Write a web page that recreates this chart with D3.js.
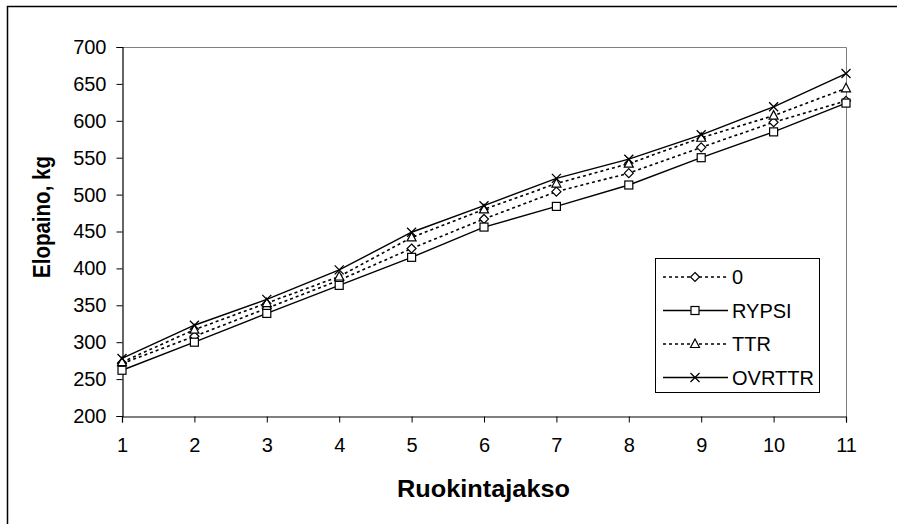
<!DOCTYPE html>
<html>
<head>
<meta charset="utf-8">
<script src="https://cdn.jsdelivr.net/npm/d3@7"></script>
<style>
  body { margin: 0; background: #fff; }
  svg { display: block; font-family: Arial, "Liberation Sans", sans-serif; }
</style>
</head>
<body>
<svg id="chart" width="897" height="524"></svg>
<script>
const periods = [1, 2, 3, 4, 5, 6, 7, 8, 9, 10, 11];
const yTicks = [200, 250, 300, 350, 400, 450, 500, 550, 600, 650, 700];

const series0 = [271, 308, 346, 384, 427, 467, 504, 529, 564, 598, 627];
const seriesRypsi = [262, 300, 339, 377, 415, 456, 484, 513, 550, 585, 624];
const seriesTtr = [273, 317, 353, 389, 442, 480, 515, 542, 577, 607, 644];
const seriesOvrttr = [278, 323, 358, 398, 449, 485, 522, 548, 581, 619, 664];

const seriesNames = ['0', 'RYPSI', 'TTR', 'OVRTTR'];
const seriesValues = [series0, seriesRypsi, seriesTtr, seriesOvrttr];
const seriesDash = ['3,3', null, '3,3', null];
const seriesMarker = ['diamond', 'square', 'triangle', 'cross'];

const svg = d3.select('#chart');

// outer frame (only top and left edges visible)
svg.append('rect')
  .attr('x', 7.5).attr('y', 6.5)
  .attr('width', 900).attr('height', 530)
  .attr('fill', 'none').attr('stroke', '#000').attr('stroke-width', 1.5);

const plot = { left: 122, right: 846, top: 47, bottom: 416 };

const x = d3.scaleLinear().domain([1, 11]).range([plot.left, plot.right]);
const y = d3.scaleLinear().domain([200, 700]).range([plot.bottom, plot.top]);

// plot area border (grey top and right)
svg.append('path')
  .attr('d', `M${plot.left},${plot.top + 0.5}H${plot.right + 0.5}V${plot.bottom}`)
  .attr('fill', 'none').attr('stroke', '#808080').attr('stroke-width', 1);

// axes
const yAxis = svg.append('g')
  .attr('transform', `translate(${plot.left + 0.5},0)`)
  .call(d3.axisLeft(y).tickValues(yTicks).tickSize(6).tickPadding(10).tickFormat(d3.format('d')));
const xAxis = svg.append('g')
  .attr('transform', `translate(0,${plot.bottom + 0.5})`)
  .call(d3.axisBottom(x).tickValues(periods).tickSize(6).tickPadding(15).tickFormat(d3.format('d')));

[xAxis, yAxis].forEach(a => {
  a.select('.domain').attr('stroke', '#000').attr('stroke-width', 1.2);
  a.selectAll('.tick line').attr('stroke', '#000');
  a.selectAll('.tick text').attr('font-size', 20).attr('fill', '#000')
    .attr('font-family', 'Arial, "Liberation Sans", sans-serif');
});

// axis titles
svg.append('text')
  .attr('x', 483.5).attr('y', 497)
  .attr('text-anchor', 'middle')
  .attr('font-size', 24).attr('font-weight', 'bold')
  .attr('textLength', 173).attr('lengthAdjust', 'spacingAndGlyphs')
  .text('Ruokintajakso');

svg.append('text')
  .attr('transform', 'translate(50,217) rotate(-90)')
  .attr('text-anchor', 'middle')
  .attr('font-size', 23).attr('font-weight', 'bold')
  .attr('textLength', 122).attr('lengthAdjust', 'spacingAndGlyphs')
  .text('Elopaino, kg');

function drawMarker(g, type, cx, cy) {
  const s = 4.5;
  if (type === 'diamond') {
    g.append('path')
      .attr('d', `M${cx},${cy - s}L${cx + s},${cy}L${cx},${cy + s}L${cx - s},${cy}Z`)
      .attr('fill', '#fff').attr('stroke', '#000').attr('stroke-width', 1.2);
  } else if (type === 'square') {
    g.append('rect')
      .attr('x', cx - 4).attr('y', cy - 4).attr('width', 8).attr('height', 8)
      .attr('fill', '#fff').attr('stroke', '#000').attr('stroke-width', 1.2);
  } else if (type === 'triangle') {
    g.append('path')
      .attr('d', `M${cx},${cy - 5}L${cx + 4.5},${cy + 3.5}L${cx - 4.5},${cy + 3.5}Z`)
      .attr('fill', '#fff').attr('stroke', '#000').attr('stroke-width', 1.2);
  } else {
    g.append('path')
      .attr('d', `M${cx - s},${cy - s}L${cx + s},${cy + s}M${cx + s},${cy - s}L${cx - s},${cy + s}`)
      .attr('stroke', '#000').attr('stroke-width', 1.3);
  }
}

const line = d3.line()
  .x((d, i) => x(periods[i]))
  .y(d => y(d));

seriesValues.forEach((vals, k) => {
  svg.append('path')
    .datum(vals)
    .attr('d', line)
    .attr('fill', 'none')
    .attr('stroke', '#000')
    .attr('stroke-width', seriesDash[k] ? 1.6 : 1.4)
    .attr('stroke-dasharray', seriesDash[k]);
});

seriesValues.forEach((vals, k) => {
  const g = svg.append('g');
  vals.forEach((v, i) => drawMarker(g, seriesMarker[k], x(periods[i]), y(v)));
});

// legend
const legend = svg.append('g');
legend.append('rect')
  .attr('x', 655.5).attr('y', 258.5).attr('width', 164).attr('height', 134)
  .attr('fill', '#fff').attr('stroke', '#000').attr('stroke-width', 1);

seriesNames.forEach((name, k) => {
  const ly = 277 + k * 33.5;
  legend.append('line')
    .attr('x1', 663).attr('x2', 728).attr('y1', ly).attr('y2', ly)
    .attr('stroke', '#000')
    .attr('stroke-width', seriesDash[k] ? 1.6 : 1.4)
    .attr('stroke-dasharray', seriesDash[k]);
  drawMarker(legend, seriesMarker[k], 695, ly);
  legend.append('text')
    .attr('x', 732).attr('y', ly + 7)
    .attr('font-size', 20)
    .text(name);
});
</script>
</body>
</html>
